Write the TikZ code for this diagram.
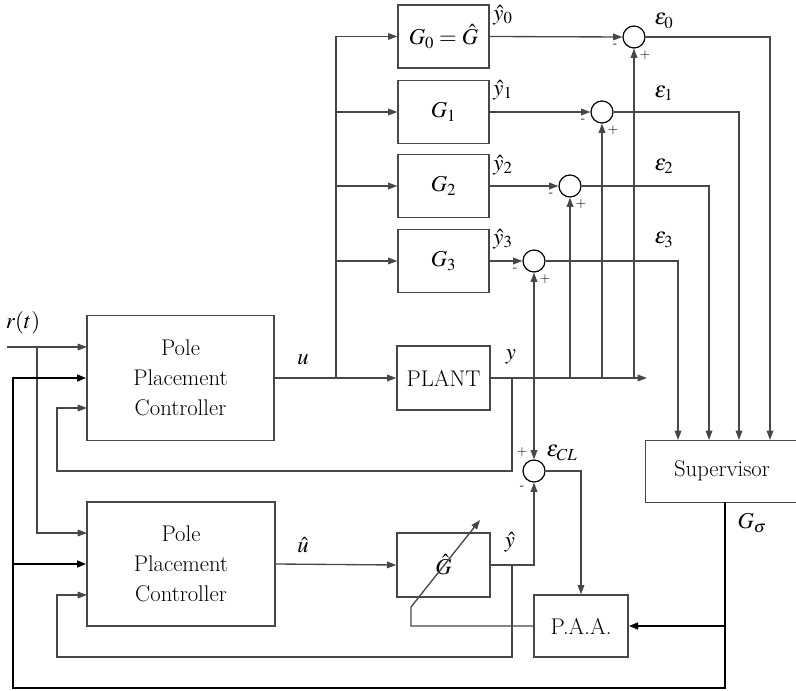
\documentclass[tikz,border=0pt]{standalone}
\usepackage{mathptmx}
\renewcommand{\rmdefault}{lmr}
\usetikzlibrary{arrows.meta}
\begin{document}
\begin{tikzpicture}[x=0.75pt,y=-0.75pt,
  ln/.style={draw=black!72, line width=1pt},
  thk/.style={draw=black, line width=2.2pt},
  arr/.style={-{Triangle[length=7pt,width=5pt]}},
  blk/.style={draw=black!72, line width=1pt, rectangle, inner sep=0pt, font=\rmfamily\fontsize{17}{22.5}\selectfont, align=center},
  sumj/.style={draw=black, line width=0.9pt, circle, minimum size=16.5pt, inner sep=0pt},
  lbl/.style={font=\rmfamily\fontsize{17}{20}\selectfont, inner sep=0pt},
  sgn/.style={font=\rmfamily\fontsize{10}{10}\selectfont, inner sep=0pt}]
\useasboundingbox (0,0) rectangle (796,691);

% blocks
\node[blk, minimum width=68.25pt, minimum height=47.25pt] (g0) at (443.5,36.5) {$G_0=\hat G$};
\node[blk, minimum width=68.25pt, minimum height=47.25pt] (g1) at (443.5,112) {$G_1$};
\node[blk, minimum width=68.25pt, minimum height=47.25pt] (g2) at (443.5,186) {$G_2$};
\node[blk, minimum width=68.25pt, minimum height=47.25pt] (g3) at (443.5,261) {$G_3$};
\node[blk, minimum width=69.75pt, minimum height=48pt] (plant) at (443.5,378) {PLANT};
\node[blk, minimum width=69.75pt, minimum height=48pt] (ghat) at (443.5,565) {$\hat G$};
\node[blk, minimum width=140.25pt, minimum height=93.75pt] (ctrl1) at (180.5,378) {Pole\\Placement\\Controller};
\node[blk, minimum width=141pt, minimum height=93pt] (ctrl2) at (181,564) {Pole\\Placement\\Controller};
\node[blk, minimum width=70.5pt, minimum height=46.5pt] (paa) at (581,626) {P.A.A.};
\node[blk, minimum width=138.75pt, minimum height=46.5pt, anchor=north west] (sup) at (645,440) {};
\node[lbl] (suptxt) at (722,471) {Supervisor};

% summing junctions
\node[sumj] (s0) at (634,37) {};
\node[sumj] (s1) at (602,112) {};
\node[sumj] (s2) at (570,186) {};
\node[sumj] (s3) at (534,261) {};
\node[sumj] (scl) at (534,471) {};

% coordinates
\coordinate (uj) at (336,378);
\coordinate (yend) at (647,378);
\coordinate (jfb) at (512,378);
\coordinate (j3) at (534,378);
\coordinate (j2) at (570,378);
\coordinate (j1) at (602,378);
\coordinate (j0) at (634,378);
\coordinate (e0) at (770,440);
\coordinate (e1) at (739,440);
\coordinate (e2) at (709,440);
\coordinate (e3) at (678,440);
\coordinate (r0) at (7,347);
\coordinate (rj) at (37,347);
\coordinate (r1) at (87,347);
\coordinate (r2) at (87,533);
\coordinate (fb1) at (57,471);
\coordinate (fb1in) at (87,408);
\coordinate (jfb2) at (512,564);
\coordinate (fb2) at (57,657);
\coordinate (fb2in) at (87,595);
\coordinate (gs) at (725,502);
\coordinate (br) at (725,688);
\coordinate (bl) at (13,688);
\coordinate (t1) at (13,378);
\coordinate (t2) at (13,564);
\coordinate (tp) at (725,626);
\coordinate (dg0) at (411,607);
\coordinate (dg1) at (480,520);

% u path
\draw[ln,arr] (ctrl1.east) -- (plant.west);
\draw[ln,arr] (uj) |- (g0.west);
\draw[ln,arr] (uj) |- (g1.west);
\draw[ln,arr] (uj) |- (g2.west);
\draw[ln,arr] (uj) |- (g3.west);

% y path
\draw[ln,arr] (plant.east) -- (yend);
\draw[ln,arr] (j0) -- (s0.south);
\draw[ln,arr] (j1) -- (s1.south);
\draw[ln,arr] (j2) -- (s2.south);
\draw[ln,arr] (j3) -- (s3.south);
\draw[ln,arr] (j3) -- (scl.north);

% model outputs
\draw[ln,arr] (g0.east) -- (s0.west);
\draw[ln,arr] (g1.east) -- (s1.west);
\draw[ln,arr] (g2.east) -- (s2.west);
\draw[ln,arr] (g3.east) -- (s3.west);

% errors to supervisor
\draw[ln,arr] (s0.east) -| (e0);
\draw[ln,arr] (s1.east) -| (e1);
\draw[ln,arr] (s2.east) -| (e2);
\draw[ln,arr] (s3.east) -| (e3);

% reference
\draw[ln,arr] (r0) -- (r1);
\draw[ln,arr] (rj) |- (r2);

% feedbacks
\draw[ln,arr] (jfb) |- (fb1) |- (fb1in);
\draw[ln,arr] (ctrl2.east) -- (ghat.west);
\draw[ln,arr] (ghat.east) -| (scl.south);
\draw[ln,arr] (jfb2) |- (fb2) |- (fb2in);
\draw[ln,arr] (scl.east) -| (paa.north);
\draw[ln,arr] (paa.west) -| (dg0) -- (dg1);

% thick supervisor output
\draw[thk,arr] (gs) -- (br) -- (bl) -- (t1) -- (ctrl1.west);
\draw[thk,arr] (t2) -- (ctrl2.west);
\draw[thk,arr] (tp) -- (paa.east);

% labels
\node[lbl] (ly0) at (503,15) {$\hat y_0$};
\node[lbl] (ly1) at (503,90) {$\hat y_1$};
\node[lbl] (ly2) at (503,165) {$\hat y_2$};
\node[lbl] (ly3) at (503,239) {$\hat y_3$};
\node[lbl] (le0) at (664,21) {$\varepsilon_0$};
\node[lbl] (le1) at (664,93) {$\varepsilon_1$};
\node[lbl] (le2) at (664,166) {$\varepsilon_2$};
\node[lbl] (le3) at (664,240) {$\varepsilon_3$};
\node[lbl] (lecl) at (562,453) {$\varepsilon_{CL}$};
\node[lbl] (lu) at (303,360) {$u$};
\node[lbl] (ly) at (511,357) {$y$};
\node[lbl] (luh) at (303,545) {$\hat u$};
\node[lbl] (lyh) at (510,542) {$\hat y$};
\node[lbl] (lgs) at (752,523) {$G_\sigma$};
\node[lbl] (lr) at (23,323) {$r(t)$};

% signs
\node[sgn] (m0) at (615,46) {-};
\node[sgn] (p0) at (645,55) {+};
\node[sgn] (m1) at (583,121) {-};
\node[sgn] (p1) at (613,130) {+};
\node[sgn] (m2) at (551,195) {-};
\node[sgn] (p2) at (581,204) {+};
\node[sgn] (m3) at (515,270) {-};
\node[sgn] (p3) at (545,279) {+};
\node[sgn] (pcl) at (522,452) {+};
\node[sgn] (mcl) at (522,488) {-};
\end{tikzpicture}
\end{document}
